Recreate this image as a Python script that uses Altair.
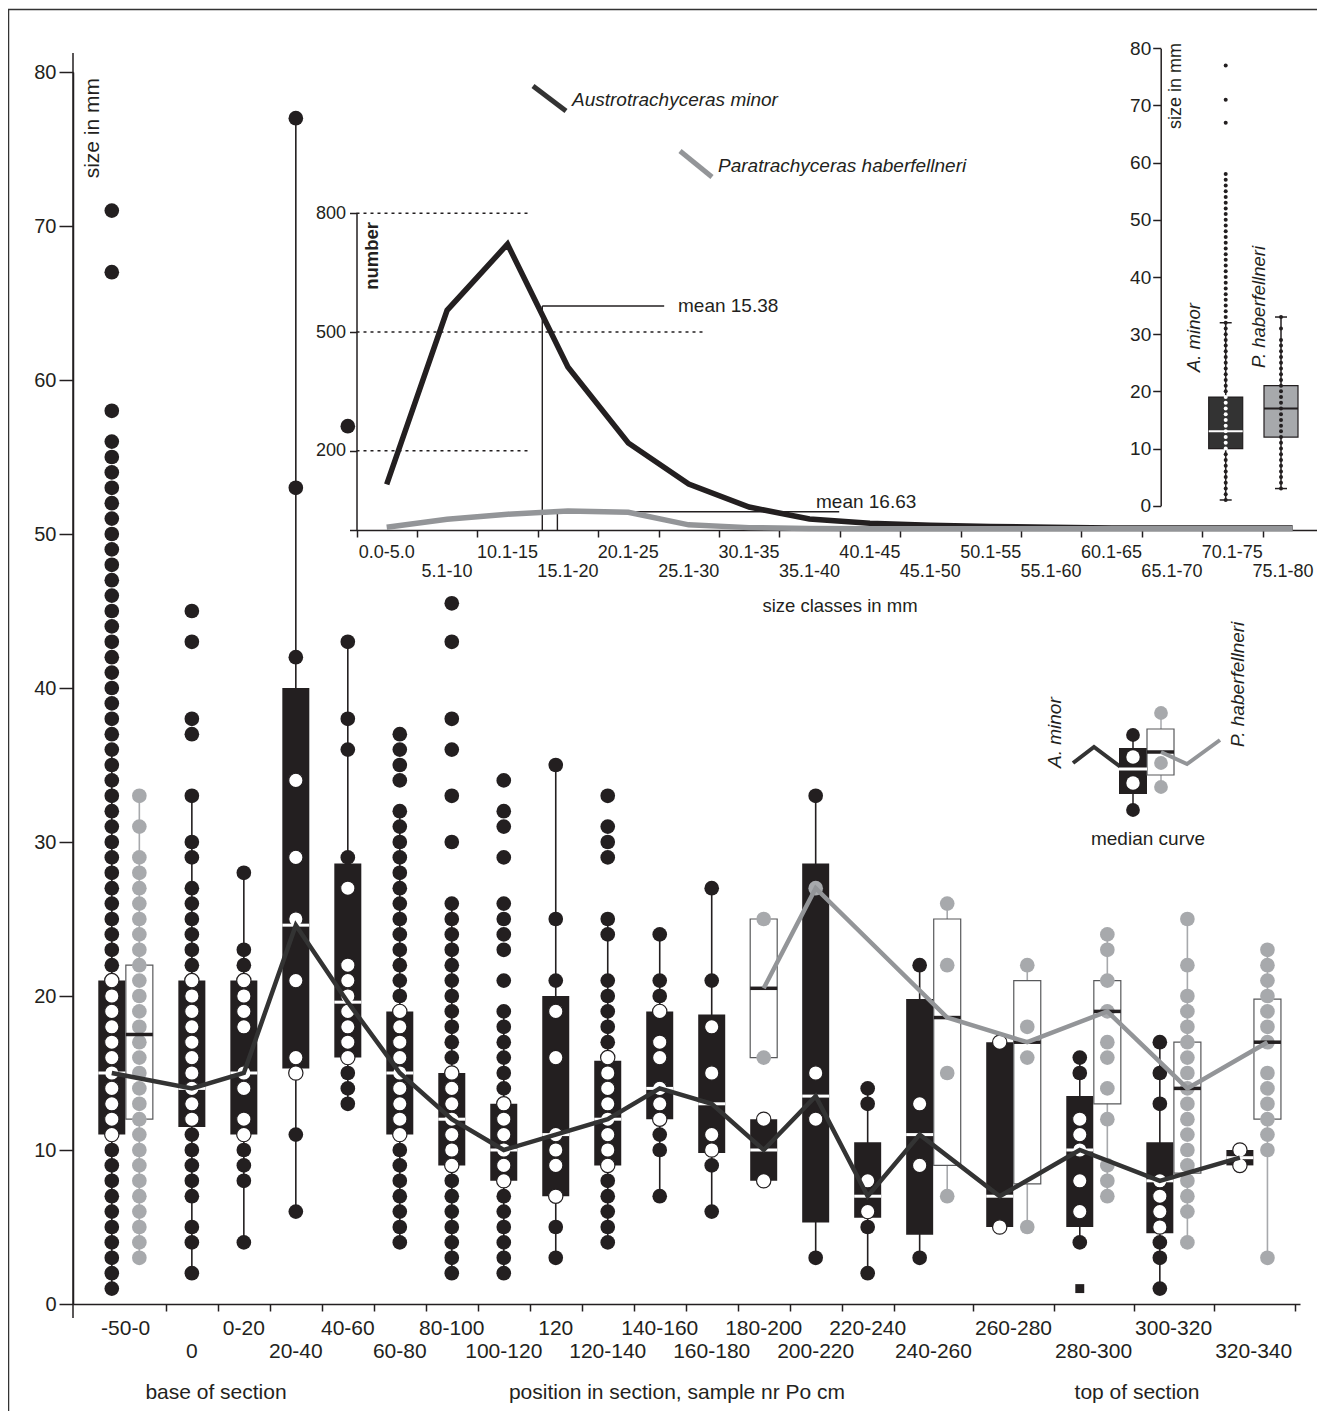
import altair as alt
import pandas as pd

FONT = "Liberation Sans"
BLACK = "#231f20"
DARK = "#333333"
GRAY_DOT = "#a7a9ac"
GRAY_LINE = "#939598"

# ---------------- main chart data ----------------
groups = ["-50-0", "0", "0-20", "20-40", "40-60", "60-80", "80-100", "100-120", "120",
          "120-140", "140-160", "160-180", "180-200", "200-220", "220-240", "240-260",
          "260-280", "280-300", "300-320", "320-340"]

am_values = [
    [1, 2, 3, 4, 5, 6, 7, 8, 9, 10, 11, 12, 13, 14, 15, 16, 17, 18, 19, 20, 21, 22, 23, 24, 25, 26, 27, 28,
     29, 30, 31, 32, 33, 34, 35, 36, 37, 38, 39, 40, 41, 42, 43, 44, 45, 46, 47, 48, 49, 50, 51, 52, 53, 54,
     55, 56, 58, 67, 71],
    [2, 4, 5, 7, 8, 9, 10, 11, 12, 13, 14, 15, 16, 17, 18, 19, 20, 21, 22, 23, 24, 25, 26, 27, 29, 30, 33,
     37, 38, 43, 45],
    [4, 8, 9, 10, 11, 12, 14, 15, 18, 19, 20, 21, 22, 23, 28],
    [6, 11, 15, 16, 21, 25, 29, 34, 42, 53, 77],
    [13, 14, 15, 16, 17, 18, 19, 20, 21, 22, 27, 29, 36, 38, 43, 57],
    [4, 5, 6, 7, 8, 9, 10, 11, 12, 13, 14, 15, 16, 17, 18, 19, 20, 21, 22, 23, 24, 25, 26, 27, 28, 29, 30,
     31, 32, 34, 35, 36, 37],
    [2, 3, 4, 5, 6, 7, 8, 9, 10, 11, 12, 13, 14, 15, 16, 17, 18, 19, 20, 21, 22, 23, 24, 25, 26, 30, 33, 36,
     38, 43, 45.5],
    [2, 3, 4, 5, 6, 7, 8, 9, 10, 11, 12, 13, 14, 15, 16, 17, 18, 19, 21, 23, 24, 25, 26, 29, 31, 32, 34],
    [3, 5, 7, 9, 10, 11, 16, 19, 21, 25, 35],
    [4, 5, 6, 7, 8, 9, 10, 11, 12, 13, 14, 15, 16, 17, 18, 19, 20, 21, 24, 25, 29, 30, 31, 33],
    [7, 10, 11, 12, 13, 14, 16, 17, 19, 20, 21, 24],
    [6, 9, 10, 11, 15, 18, 21, 27],
    [8, 12],
    [3, 12, 15, 33],
    [2, 5, 6, 8, 13, 14],
    [3, 9, 13, 22],
    [5, 17],
    [4, 6, 8, 10, 11, 12, 15, 16],
    [1, 3, 4, 5, 6, 7, 8, 13, 15, 17],
    [9, 10],
]
am_q1 = [11, 11.5, 11, 15.3, 16, 11, 9, 8, 7, 9, 12, 9.8, 8, 5.3, 5.6, 4.5, 5, 5, 4.6, 9]
am_median = [15, 14, 15, 24.6, 19.6, 15, 12, 10, 11, 12, 14, 13, 10, 13.5, 7, 11, 7, 10, 8, 9.5]
am_q3 = [21, 21, 21, 40, 28.6, 19, 15, 13, 20, 15.8, 19, 18.8, 12, 28.6, 10.5, 19.8, 17, 13.5, 10.5, 10]
am_low = [1, 2, 4, 6, 13, 4, 2, 2, 3, 4, 7, 6, 8, 3, 2, 3, 5, 4, 1, 9]
am_high = [36, 33, 28, 77, 43, 32, 26, 19, 35, 25, 24, 27, 12, 33, 14, 22, 17, 16, 17, 10]
am_extreme_groups = ["280-300"]
am_extreme_values = [1]

ph_groups = ["-50-0", "180-200", "200-220", "240-260", "260-280", "280-300", "300-320", "320-340"]
ph_values = [
    [3, 4, 5, 6, 7, 8, 9, 10, 11, 12, 13, 14, 15, 16, 17, 18, 19, 20, 21, 22, 23, 24, 25, 26, 27, 28, 29,
     31, 33],
    [16, 25],
    [27],
    [7, 15, 22, 26],
    [5, 16, 18, 22],
    [7, 8, 9, 12, 14, 16, 17, 19, 21, 23, 24],
    [4, 6, 7, 8, 9, 10, 11, 12, 13, 14, 15, 16, 17, 18, 19, 20, 22, 25],
    [3, 10, 11, 12, 13, 14, 15, 17, 18, 19, 20, 21, 22, 23],
]
ph_q1 = [12, 16, None, 9, 7.8, 13, 8.5, 12]
ph_median = [17.5, 20.5, 27, 18.6, 17, 19, 14, 17]
ph_q3 = [22, 25, None, 25, 21, 21, 17, 19.8]
ph_low = [3, 16, None, 7, 5, 7, 4, 3]
ph_high = [33, 25, None, 26, 22, 24, 25, 23]
ph_on_curve = [False, True, True, True, True, True, True, True]

# ---------------- inset: size classes ----------------
size_classes = ["0.0-5.0", "5.1-10", "10.1-15", "15.1-20", "20.1-25", "25.1-30", "30.1-35", "35.1-40",
                "40.1-45", "45.1-50", "50.1-55", "55.1-60", "60.1-65", "65.1-70", "70.1-75", "75.1-80"]
am_class_counts = [115, 555, 722, 412, 220, 116, 58, 28, 17, 12, 9, 7, 5, 5, 5, 5]
ph_class_counts = [7, 27, 40, 48, 45, 13, 6, 4, 3, 3, 3, 3, 3, 3, 3, 3]
means = [15.38, 16.63]
mean_labels = ["mean 15.38", "mean 16.63"]

# ---------------- inset: totals ----------------
total_species = ["A. minor", "P. haberfellneri"]
total_values = [
    [1, 2, 3, 4, 5, 6, 7, 8, 9, 10, 11, 12, 13, 14, 15, 16, 17, 18, 19, 20, 21, 22, 23, 24, 25, 26, 27, 28,
     29, 30, 31, 32, 33, 34, 35, 36, 37, 38, 39, 40, 41, 42, 43, 44, 45, 46, 47, 48, 49, 50, 51, 52, 53, 54,
     55, 56, 57, 58, 67, 71, 77],
    [3, 4, 5, 6, 7, 8, 9, 10, 11, 12, 13, 14, 15, 16, 17, 18, 19, 20, 21, 22, 23, 24, 25, 26, 27, 28, 29,
     31, 33],
]
total_q1 = [10, 12]
total_median = [13, 17]
total_q3 = [19, 21]
total_low = [1, 3]
total_high = [32, 33]

# ---------------- layout ----------------
W, H = 1227, 1232
START, STEP, SIDE, DSTEP = 0.65, 1.0, 0.53, 1.54
n = len(groups)
ph_index = {g: j for j, g in enumerate(ph_groups)}
side = []
for i, g in enumerate(groups):
    s = False
    j = ph_index.get(g)
    if j is not None and ph_low[j] is not None:
        s = (ph_low[j] < am_high[i]) and (ph_high[j] > am_low[i])
    side.append(s)

am_pos, ph_pos_all = [], []
p = START
for i in range(n):
    am_pos.append(p)
    ph_pos_all.append(p + SIDE if side[i] else p)
    p += DSTEP if side[i] else STEP
XMAX = max(am_pos[-1], ph_pos_all[-1]) + SIDE
boundaries = [float((max(am_pos[i], ph_pos_all[i]) + am_pos[i + 1]) / 2) for i in range(n - 1)] + [float(XMAX)]
centers = [(am_pos[i] + ph_pos_all[i]) / 2 for i in range(n)]

# ---------------- dataframes: main ----------------
am_box = pd.DataFrame({"pos": am_pos, "q1": am_q1, "q3": am_q3, "med": am_median,
                       "lo": am_low, "hi": am_high})
black_rows, white_rows = [], []
for i, vals in enumerate(am_values):
    for v in vals:
        if am_q1[i] - 0.35 <= v <= am_q3[i] + 0.35:
            white_rows.append({"pos": am_pos[i], "v": v})
        else:
            black_rows.append({"pos": am_pos[i], "v": v})
black_df = pd.DataFrame(black_rows)
white_df = pd.DataFrame(white_rows)
ext_df = pd.DataFrame({"pos": [am_pos[groups.index(g)] for g in am_extreme_groups], "v": am_extreme_values})

ph_pos = [ph_pos_all[groups.index(g)] for g in ph_groups]
gray_rows = []
for j, vals in enumerate(ph_values):
    for v in vals:
        gray_rows.append({"pos": ph_pos[j], "v": v})
gray_df = pd.DataFrame(gray_rows)
ph_box = pd.DataFrame([{"pos": ph_pos[j], "q1": ph_q1[j], "q3": ph_q3[j], "med": ph_median[j],
                        "lo": ph_low[j], "hi": ph_high[j]} for j in range(len(ph_groups)) if ph_q1[j] is not None])
ph_curve = pd.DataFrame([{"pos": ph_pos[j], "med": ph_median[j]} for j in range(len(ph_groups)) if ph_on_curve[j]])
lab_df = pd.DataFrame({"pos": centers, "g": groups, "row": [i % 2 for i in range(n)]})

SX = alt.Scale(domain=[0, float(XMAX)], nice=False, zero=False)
SY = alt.Scale(domain=[0, 80], nice=False, zero=False)
AX = alt.Axis(orient="bottom", values=boundaries, labels=False, tickSize=7, tickWidth=1.5,
              domainWidth=1.5, grid=False, title=None)
AY = alt.Axis(orient="left", values=list(range(0, 81, 10)), tickSize=14, tickWidth=1.5, domainWidth=1.5,
              labelFontSize=20, labelPadding=3, grid=False, title=None)


def mx():
    return alt.X("pos:Q", scale=SX, axis=AX)


def my(f):
    return alt.Y(f"{f}:Q", scale=SY, axis=AY)


main = alt.layer(
    alt.Chart(am_box).mark_rule(color=BLACK, strokeWidth=1.6).encode(x=mx(), y=my("lo"), y2="hi:Q"),
    alt.Chart(ph_box).mark_rule(color=GRAY_DOT, strokeWidth=1.6).encode(x=mx(), y=my("lo"), y2="hi:Q"),
    alt.Chart(am_box).mark_bar(size=27, color=BLACK, orient="vertical").encode(x=mx(), y=my("q1"), y2="q3:Q"),
    alt.Chart(ph_box).mark_bar(size=27, fill="white", stroke="#58595b", strokeWidth=1.2,
                               orient="vertical").encode(x=mx(), y=my("q1"), y2="q3:Q"),
    alt.Chart(gray_df).mark_circle(size=215, color=GRAY_DOT, opacity=1).encode(x=mx(), y=my("v")),
    alt.Chart(black_df).mark_circle(size=215, color=BLACK, opacity=1).encode(x=mx(), y=my("v")),
    alt.Chart(white_df).mark_circle(size=205, fill="white", stroke=BLACK, strokeWidth=1.2, opacity=1,
                                    fillOpacity=1).encode(x=mx(), y=my("v")),
    alt.Chart(ext_df).mark_square(size=80, color=BLACK, opacity=1).encode(x=mx(), y=my("v")),
    alt.Chart(am_box).mark_tick(orient="horizontal", size=27, thickness=3, color="white",
                                opacity=1).encode(x=mx(), y=my("med")),
    alt.Chart(ph_box).mark_tick(orient="horizontal", size=27, thickness=3.5, color=BLACK,
                                opacity=1).encode(x=mx(), y=my("med")),
    alt.Chart(am_box).mark_line(color=DARK, strokeWidth=4.5).encode(x=mx(), y=my("med")),
    alt.Chart(ph_curve).mark_line(color=GRAY_LINE, strokeWidth=4.5).encode(x=mx(), y=my("med")),
    alt.Chart(lab_df).transform_filter("datum.row == 0").mark_text(
        font=FONT, fontSize=21, color=BLACK, align="center", baseline="alphabetic").encode(
        x=mx(), y=alt.value(H + 31), text="g:N"),
    alt.Chart(lab_df).transform_filter("datum.row == 1").mark_text(
        font=FONT, fontSize=21, color=BLACK, align="center", baseline="alphabetic").encode(
        x=mx(), y=alt.value(H + 54), text="g:N"),
)

# ---------------- inset 1: size classes ----------------
I1_X0, I1_X1, I1_Y0, I1_Y1 = 283.5, 1249.9, 458.0, 141.3
SX1 = alt.Scale(domain=[0, 80], range=[I1_X0, I1_X1], nice=False, zero=False)
SY1 = alt.Scale(domain=[0, 800], range=[I1_Y0, I1_Y1], nice=False, zero=False)
AX1 = alt.Axis(orient="bottom", offset=-(H - I1_Y0), values=list(range(0, 81, 5)), labels=False,
               tickSize=7, tickWidth=1.5, domainWidth=1.5, grid=False, title=None)
AY1 = alt.Axis(orient="left", offset=-I1_X0, values=[0, 200, 500, 800],
               labelExpr="datum.value == 0 ? '' : datum.label", tickSize=7, tickWidth=1.5,
               domainWidth=1.5, labelFontSize=18, labelPadding=4, grid=False, title=None)


def x1(f="mm"):
    return alt.X(f"{f}:Q", scale=SX1, axis=AX1)


def y1(f):
    return alt.Y(f"{f}:Q", scale=SY1, axis=AY1)


# keep the last class label inside the visible page (right edge of the drawing)
px_per_mm = (I1_X1 - I1_X0) / 80
label_max_mm = (W + 17 - 3 - 31 - I1_X0) / px_per_mm
cls_centers = [5 * i + 2.5 for i in range(len(size_classes))]
cls_df = pd.DataFrame({"mm": cls_centers, "am": am_class_counts,
                       "ph": ph_class_counts, "lab": size_classes,
                       "mm_lab": [min(c, label_max_mm) for c in cls_centers],
                       "row": [i % 2 for i in range(len(size_classes))]})
grid_df = pd.DataFrame({"mm": [0, 0, 0], "mm2": [14.2, 28.86, 14.2], "n": [800, 500, 200]})
mean_tops = [566, 46]
mean_ends = [25.47, 39.96]
mean_v = pd.DataFrame({"mm": means, "n": [0, 0], "n2": mean_tops})
mean_h = pd.DataFrame({"mm": means, "mm2": mean_ends, "n": mean_tops})

inset1 = alt.layer(
    alt.Chart(grid_df).mark_rule(color=BLACK, strokeWidth=1.5, strokeDash=[3, 4]).encode(
        x=x1(), x2="mm2:Q", y=y1("n")),
    alt.Chart(mean_v).mark_rule(color=BLACK, strokeWidth=1.4).encode(x=x1(), y=y1("n"), y2="n2:Q"),
    alt.Chart(mean_h).mark_rule(color=BLACK, strokeWidth=1.4).encode(x=x1(), x2="mm2:Q", y=y1("n")),
    alt.Chart(cls_df).mark_line(color=BLACK, strokeWidth=5.5, strokeJoin="miter").encode(x=x1(), y=y1("am")),
    alt.Chart(cls_df).mark_line(color=GRAY_LINE, strokeWidth=5.5, strokeJoin="miter").encode(x=x1(), y=y1("ph")),
    alt.Chart(cls_df).transform_filter("datum.row == 0").mark_text(
        font=FONT, fontSize=18, color=BLACK, align="center", baseline="alphabetic").encode(
        x=x1("mm_lab"), y=alt.value(486), text="lab:N"),
    alt.Chart(cls_df).transform_filter("datum.row == 1").mark_text(
        font=FONT, fontSize=18, color=BLACK, align="center", baseline="alphabetic").encode(
        x=x1("mm_lab"), y=alt.value(505), text="lab:N"),
)

# ---------------- inset 3: totals ----------------
SX3 = alt.Scale(domain=[0, 1], range=[1147.7, 1213.0], nice=False, zero=False)
SY3 = alt.Scale(domain=[0, 80], range=[433.7, -23.7], nice=False, zero=False)
AY3 = alt.Axis(orient="left", offset=-1087.7, values=list(range(0, 81, 10)), tickSize=8, tickWidth=1.5,
               domainWidth=1.5, labelFontSize=19, labelPadding=2, grid=False, title=None)


def x3():
    return alt.X("sp:Q", scale=SX3, axis=None)


def y3(f):
    return alt.Y(f"{f}:Q", scale=SY3, axis=AY3)


tot_box = pd.DataFrame({"sp": list(range(len(total_species))), "q1": total_q1, "q3": total_q3,
                        "med": total_median, "lo": total_low, "hi": total_high,
                        "fill": [DARK, GRAY_DOT], "mc": ["white", BLACK]})
tot_rows = []
for k, vals in enumerate(total_values):
    for v in vals:
        white = (k == 0) and (total_q1[k] <= v <= total_q3[k])
        tot_rows.append({"sp": k, "v": v, "c": "white" if white else BLACK})
tot_dots = pd.DataFrame(tot_rows)
tot_caps = pd.DataFrame({"sp": [0, 0, 1, 1], "v": total_low[:1] + total_high[:1] + total_low[1:] + total_high[1:]})

inset3 = alt.layer(
    alt.Chart(tot_box).mark_rule(color=BLACK, strokeWidth=1.5).encode(x=x3(), y=y3("lo"), y2="hi:Q"),
    alt.Chart(tot_caps).mark_tick(orient="horizontal", size=12, thickness=1.5, color=BLACK,
                                  opacity=1).encode(x=x3(), y=y3("v")),
    alt.Chart(tot_box).mark_bar(size=34, stroke=BLACK, strokeWidth=1.2, orient="vertical").encode(
        x=x3(), y=y3("q1"), y2="q3:Q", fill=alt.Fill("fill:N", scale=None)),
    alt.Chart(tot_dots).mark_circle(size=16, opacity=1).encode(
        x=x3(), y=y3("v"), color=alt.Color("c:N", scale=None)),
    alt.Chart(tot_box).mark_tick(orient="horizontal", size=34, thickness=2, opacity=1).encode(
        x=x3(), y=y3("med"), color=alt.Color("mc:N", scale=None)),
)

# ---------------- annotations (page coordinates) ----------------
PX = alt.Scale(domain=[0, 1325], range=[-73, 1252], nice=False, zero=False)
PY = alt.Scale(domain=[0, 1419], range=[-72, 1347], nice=False, zero=False)


def px(f):
    return alt.X(f"{f}:Q", scale=PX, axis=None)


def py(f):
    return alt.Y(f"{f}:Q", scale=PY, axis=None)


def page_text(rows, **kw):
    df = pd.DataFrame(rows, columns=["t", "x", "y"])
    return alt.Chart(df).mark_text(font=FONT, color=BLACK, **kw).encode(x=px("x"), y=py("y"), text="t:N")


def page_line(points, color, width):
    df = pd.DataFrame({"x": [q[0] for q in points], "y": [q[1] for q in points],
                       "o": list(range(len(points)))})
    return alt.Chart(df).mark_line(color=color, strokeWidth=width, strokeJoin="miter").encode(
        x=px("x"), y=py("y"), order="o:Q")


def page_rect(x, y, x2, y2, **kw):
    df = pd.DataFrame({"x": [x], "y": [y], "x2": [x2], "y2": [y2]})
    return alt.Chart(df).mark_rect(**kw).encode(x=px("x"), y=py("y"), x2="x2:Q", y2="y2:Q")


def page_dots(points, **kw):
    df = pd.DataFrame({"x": [q[0] for q in points], "y": [q[1] for q in points]})
    return alt.Chart(df).mark_circle(opacity=1, **kw).encode(x=px("x"), y=py("y"))


annot = alt.layer(
    page_rect(8.5, 9.5, 1400, 1500, fillOpacity=0, stroke=DARK, strokeWidth=1.5),
    page_line([(73, 53), (73, 1318)], BLACK, 1.5),
    page_line([(533, 86), (566, 111)], DARK, 5),
    page_line([(680, 151), (712, 177)], GRAY_LINE, 5),
    # median curve legend
    page_line([(1133, 735), (1133, 810)], BLACK, 1.5),
    page_line([(1161, 713), (1161, 787)], GRAY_DOT, 1.5),
    page_line([(1073, 763), (1094, 747), (1122, 768)], DARK, 4),
    page_rect(1119, 748, 1147, 794, fill=BLACK),
    page_rect(1147, 729, 1174, 775, fill="white", stroke="#58595b", strokeWidth=1.2),
    page_dots([(1133, 735), (1133, 810)], size=190, color=BLACK),
    page_dots([(1133, 757), (1133, 783)], size=180, color="white"),
    page_dots([(1161, 713), (1161, 763), (1161, 787)], size=190, color=GRAY_DOT),
    page_line([(1119, 769), (1147, 769)], "white", 3),
    page_line([(1147, 752), (1174, 752)], BLACK, 3.5),
    page_line([(1161, 752), (1187, 764), (1220, 740)], GRAY_LINE, 4),
    # texts
    page_text([("base of section", 216, 1399), ("position in section, sample nr Po cm", 677, 1399),
               ("top of section", 1137, 1399)], fontSize=21, align="center", baseline="alphabetic"),
    page_text([("size classes in mm", 840, 612)], fontSize=18.5, align="center", baseline="alphabetic"),
    page_text([("median curve", 1148, 845)], fontSize=19, align="center", baseline="alphabetic"),
    page_text([(mean_labels[0], 678, 306), (mean_labels[1], 816, 502)], fontSize=19, align="left",
              baseline="middle"),
    page_text([("Austrotrachyceras minor", 572, 100), ("Paratrachyceras haberfellneri", 718, 166)],
              fontSize=19, fontStyle="italic", align="left", baseline="middle"),
    page_text([("size in mm", 93, 78)], fontSize=21, angle=270, align="right", baseline="middle"),
    page_text([("size in mm", 1176, 43)], fontSize=18, angle=270, align="right", baseline="middle"),
    page_text([("number", 372, 222)], fontSize=18.5, fontWeight="bold", angle=270, align="right",
              baseline="middle"),
    page_text([("A. minor", 1194, 372), ("P. haberfellneri", 1259, 368)], fontSize=18.5,
              fontStyle="italic", angle=270, align="left", baseline="middle"),
    page_text([("A. minor", 1055, 768), ("P. haberfellneri", 1238, 747)], fontSize=19,
              fontStyle="italic", angle=270, align="left", baseline="middle"),
)

chart = alt.layer(main, inset1, inset3, annot).resolve_scale(
    x="independent", y="independent"
).properties(
    width=W, height=H,
    padding={"left": 65, "top": 64, "right": 17, "bottom": 107},
    autosize=alt.AutoSizeParams(type="none"),
    background="white",
).configure_view(stroke=None).configure_axis(
    labelFont=FONT, labelColor=BLACK, domainColor=BLACK, tickColor=BLACK, titleFont=FONT
)

chart.save("out.html", embed_options={"renderer": "svg", "actions": False})
